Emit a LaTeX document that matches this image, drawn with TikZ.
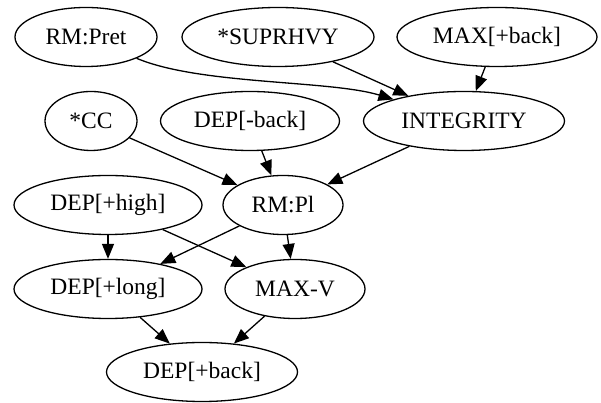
\documentclass[tikz,border=0pt]{standalone}
\usepackage{fontspec}
\setmainfont{Liberation Serif}
\usetikzlibrary{shapes.geometric,arrows.meta}
\begin{document}
\begin{tikzpicture}[x=1pt,y=1pt,
  gnode/.style={ellipse,draw,line width=1.3pt,inner sep=0pt,minimum height=59pt,
    font=\fontsize{23.5}{27}\selectfont},
  edge/.style={line width=1.3pt,-{Triangle[length=15pt,width=12pt]}}]
\useasboundingbox (0,0) rectangle (601,403);
\node[gnode,minimum width=142pt] (pret) at (86,366) {RM:Pret};
\node[gnode,minimum width=192pt] (suprhvy) at (278,366) {*SUPRHVY};
\node[gnode,minimum width=200pt] (maxback) at (497,366) {MAX[+back]};
\node[gnode,minimum width=201pt] (integ) at (464,282) {INTEGRITY};
\node[gnode,minimum width=92pt] (cc) at (91,282) {*CC};
\node[gnode,minimum width=179pt] (depm) at (250,282) {DEP[-back]};
\node[gnode,minimum width=120pt] (rmpl) at (283,198) {RM:Pl};
\node[gnode,minimum width=188pt] (high) at (108,198) {DEP[+high]};
\node[gnode,minimum width=188pt] (long) at (108,114) {DEP[+long]};
\node[gnode,minimum width=140pt] (maxv) at (295,114) {MAX-V};
\node[gnode,minimum width=191pt] (depb) at (202,31) {DEP[+back]};
\draw[edge] (pret) .. controls (200,318) and (330,323) .. (integ);
\draw[edge] (suprhvy) -- (integ);
\draw[edge] (maxback) -- (integ);
\draw[edge] (cc) -- (rmpl);
\draw[edge] (depm) -- (rmpl);
\draw[edge] (integ) -- (rmpl);
\draw[edge] (high) -- (long);
\draw[edge] (high) -- (maxv);
\draw[edge] (rmpl) -- (long);
\draw[edge] (rmpl) -- (maxv);
\draw[edge] (long) -- (depb);
\draw[edge] (maxv) -- (depb);
\end{tikzpicture}
\end{document}
